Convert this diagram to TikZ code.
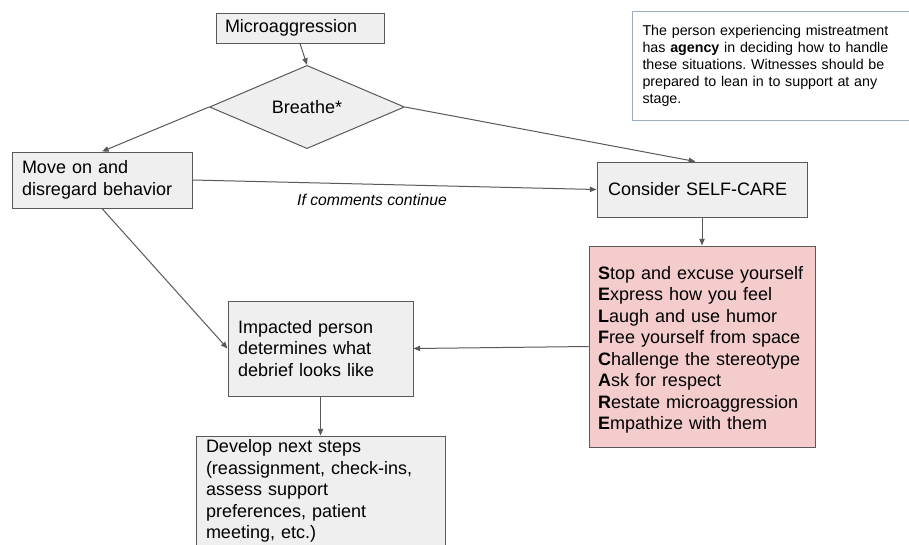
\documentclass[tikz,border=0pt]{standalone}
\usepackage{fontspec}
\setmainfont{Liberation Sans}
\usetikzlibrary{arrows.meta,shapes.geometric}
\definecolor{boxfill}{HTML}{EFEFEF}
\definecolor{boxline}{HTML}{595959}
\definecolor{pinkfill}{HTML}{F4CCCC}
\definecolor{noteline}{HTML}{9AAEBF}
\definecolor{arrowline}{HTML}{595959}
\tikzset{
  box/.style={draw=boxline, fill=boxfill, line width=0.75pt, rectangle, align=left,
    font=\fontsize{13.5pt}{16.1pt}\selectfont, inner ysep=0pt},
  pinkbox/.style={box, fill=pinkfill},
  plaintext/.style={align=left, font=\fontsize{13.5pt}{16.1pt}\selectfont, inner sep=0pt},
  notebox/.style={draw=noteline, fill=white, line width=0.75pt, rectangle, align=left,
    font=\fontsize{10.7pt}{12.75pt}\selectfont, inner ysep=0pt},
  decision/.style={draw=boxline, fill=boxfill, line width=0.75pt, diamond, inner sep=0pt,
    font=\fontsize{13.5pt}{16.1pt}\selectfont},
  arr/.style={draw=arrowline, line width=0.75pt, -{Triangle[length=5pt,width=4pt]}},
  lbl/.style={font=\fontsize{11.8pt}{14pt}\selectfont\itshape, inner sep=0pt}
}
\begin{document}
\frenchspacing
\begin{tikzpicture}[x=0.75pt,y=-0.75pt]
\useasboundingbox (0,0) rectangle (909,544);
\clip (0,0) rectangle (909,544);
\fill[white] (0,0) rectangle (909,544);

\node[box, minimum width=126pt, minimum height=22.5pt, inner xsep=6.75pt, text width=112.5pt] (micro) at (300,28) {Microaggression};

\node[decision, minimum width=146.25pt, minimum height=40.5pt] (breathe) at (307,107) {Breathe*};

\node[notebox, anchor=west, minimum width=212.25pt, minimum height=81.75pt, inner xsep=7.5pt, text width=197.25pt] (note) at (632,65.5)
  {The person experiencing mistreatment\\has \textbf{agency} in deciding how to handle\\these situations. Witnesses should be\\prepared to lean in to support at any\\stage.};

\node[box, minimum width=135pt, minimum height=42pt, inner xsep=7.5pt, text width=120pt] (move) at (102,180)
  {Move on and\\disregard behavior};

\node[box, minimum width=157.5pt, minimum height=41.25pt, inner xsep=8.25pt, text width=141pt] (consider) at (702,189.5)
  {Consider SELF-CARE};

\node[pinkbox, minimum width=169.5pt, minimum height=150.75pt] (selfcare) at (702,346.5) {};
\node[plaintext, text width=156pt] (selfcaretext) at (702,350)
  {\textbf{S}top and excuse yourself\\
   \textbf{E}xpress how you feel\\
   \textbf{L}augh and use humor\\
   \textbf{F}ree yourself from space\\
   \textbf{C}hallenge the stereotype\\
   \textbf{A}sk for respect\\
   \textbf{R}estate microaggression\\
   \textbf{E}mpathize with them};

\node[box, minimum width=138.75pt, minimum height=71.25pt, inner xsep=7.5pt, text width=123.75pt] (impacted) at (320.5,348.5)
  {Impacted person\\determines what\\debrief looks like};

\node[box, minimum width=186.75pt, minimum height=82.5pt, inner xsep=7.5pt, text width=171.75pt] (develop) at (320.5,491)
  {Develop next steps\\(reassignment, check-ins,\\assess support\\preferences, patient\\meeting, etc.)};

\node[lbl] (cont) at (372,200) {If comments continue};

\draw[arr] (micro.south) -- (breathe.north);
\draw[arr] (breathe.west) -- (move.north);
\draw[arr] (breathe.east) -- ([xshift=-5pt]consider.north);
\draw[arr] (move.east) -- (consider.west);
\draw[arr] (move.south) -- (impacted.west);
\draw[arr] (consider.south) -- (selfcare.north);
\draw[arr] (selfcare.west) -- (impacted.east);
\draw[arr] (impacted.south) -- (develop.north);
\end{tikzpicture}
\end{document}
